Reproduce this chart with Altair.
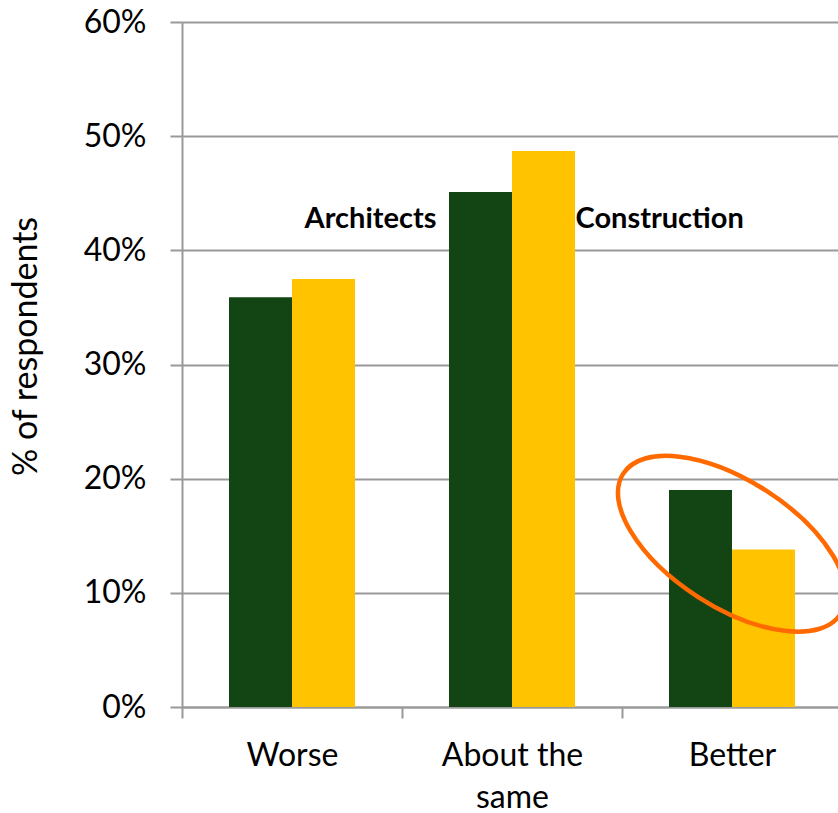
import altair as alt
import pandas as pd

# Survey responses by sector (share of respondents)
categories = ["Worse", "About the same", "Better"]
series = ["Architects", "Construction"]
architects = [0.359, 0.451, 0.190]
construction = [0.375, 0.487, 0.138]
y_ticks = [0.0, 0.1, 0.2, 0.3, 0.4, 0.5, 0.6]

rows = []
for cat, a, c in zip(categories, architects, construction):
    rows.append({"category": cat, "series": series[0], "value": a})
    rows.append({"category": cat, "series": series[1], "value": c})
df = pd.DataFrame(rows)

GREEN = "#124513"
GOLD = "#FFC300"
FONT = "Lato"

x_scale = alt.Scale(domain=categories, range=[0, 660], paddingInner=0, paddingOuter=0)
off_scale = alt.Scale(domain=series, paddingInner=0, paddingOuter=0.746)
y_scale = alt.Scale(domain=[0, 0.6], nice=False)

x_enc = alt.X(
    "category:N",
    scale=x_scale,
    sort=categories,
    axis=alt.Axis(
        title=None,
        tickBand="extent",
        labelAngle=0,
        labelFont=FONT,
        labelFontSize=32,
        labelColor="black",
        labelPadding=22,
        labelLineHeight=42,
        labelBaseline="top",
        labelExpr="datum.label == 'About the same' ? ['About the', 'same'] : datum.label",
        domainColor="#999999",
        domainWidth=2,
        tickColor="#999999",
        tickWidth=2,
        tickSize=11,
        grid=False,
    ),
)

y_enc = alt.Y(
    "value:Q",
    scale=y_scale,
    axis=alt.Axis(
        title="% of respondents",
        values=y_ticks,
        format=".0%",
        labelFont=FONT,
        labelFontSize=32,
        labelColor="black",
        labelPadding=24,
        titleFont=FONT,
        titleFontSize=34,
        titleFontWeight="normal",
        titleColor="black",
        titleAngle=-90,
        titleAlign="center",
        titleBaseline="alphabetic",
        titleX=-146,
        titleY=324,
        domainColor="#999999",
        domainWidth=2,
        tickColor="#999999",
        tickWidth=2,
        tickSize=12,
        grid=True,
        gridColor="#999999",
        gridWidth=2,
    ),
)

bars = alt.Chart(df).mark_bar(stroke=None).encode(
    x=x_enc,
    xOffset=alt.XOffset("series:N", scale=off_scale, sort=series),
    y=y_enc,
    color=alt.Color(
        "series:N",
        scale=alt.Scale(domain=series, range=[GREEN, GOLD]),
        legend=None,
    ),
)

# Series names written beside the middle pair of bars
labels_df = pd.DataFrame(
    {"category": [categories[1], categories[1]], "series": series, "value": [0.42, 0.42]}
)

label_left = alt.Chart(labels_df).transform_filter(
    alt.datum.series == series[0]
).mark_text(
    font=FONT, fontSize=29, fontWeight="bold", color="black",
    align="right", baseline="alphabetic", dx=-44,
).encode(
    x=alt.X("category:N", scale=x_scale, sort=categories),
    xOffset=alt.XOffset("series:N", scale=off_scale, sort=series),
    y=alt.Y("value:Q", scale=y_scale),
    text="series:N",
)

label_right = alt.Chart(labels_df).transform_filter(
    alt.datum.series == series[1]
).mark_text(
    font=FONT, fontSize=29, fontWeight="bold", color="black",
    align="left", baseline="alphabetic", dx=32,
).encode(
    x=alt.X("category:N", scale=x_scale, sort=categories),
    xOffset=alt.XOffset("series:N", scale=off_scale, sort=series),
    y=alt.Y("value:Q", scale=y_scale),
    text="series:N",
)

# Highlight ring around the "Better" pair (tilted ellipse drawn as a custom symbol)
k = 0.5523
ry = 0.488
ellipse_path = (
    f"M 1 0 C 1 {k*ry:.4f} {k:.4f} {ry} 0 {ry} "
    f"C {-k:.4f} {ry} -1 {k*ry:.4f} -1 0 "
    f"C -1 {-k*ry:.4f} {-k:.4f} {-ry} 0 {-ry} "
    f"C {k:.4f} {-ry} 1 {-k*ry:.4f} 1 0 Z"
)
ring_df = pd.DataFrame({"category": [categories[2]], "value": [0.143]})
ring = alt.Chart(ring_df).mark_point(
    shape=ellipse_path,
    size=66980,
    angle=32.8,
    filled=False,
    stroke="#FF6A00",
    strokeWidth=4.5,
    opacity=1,
    dx=-4,
).encode(
    x=alt.X("category:N", scale=x_scale, sort=categories),
    y=alt.Y("value:Q", scale=y_scale),
)

chart = (
    alt.layer(bars, label_left, label_right, ring)
    .properties(
        width=656,
        height=685,
        autosize=alt.AutoSizeParams(type="none"),
        padding={"left": 182, "top": 22, "right": 0, "bottom": 106},
        background="white",
    )
    .configure_view(stroke=None)
)

chart.save("out.html", embed_options={"renderer": "svg", "actions": False})
